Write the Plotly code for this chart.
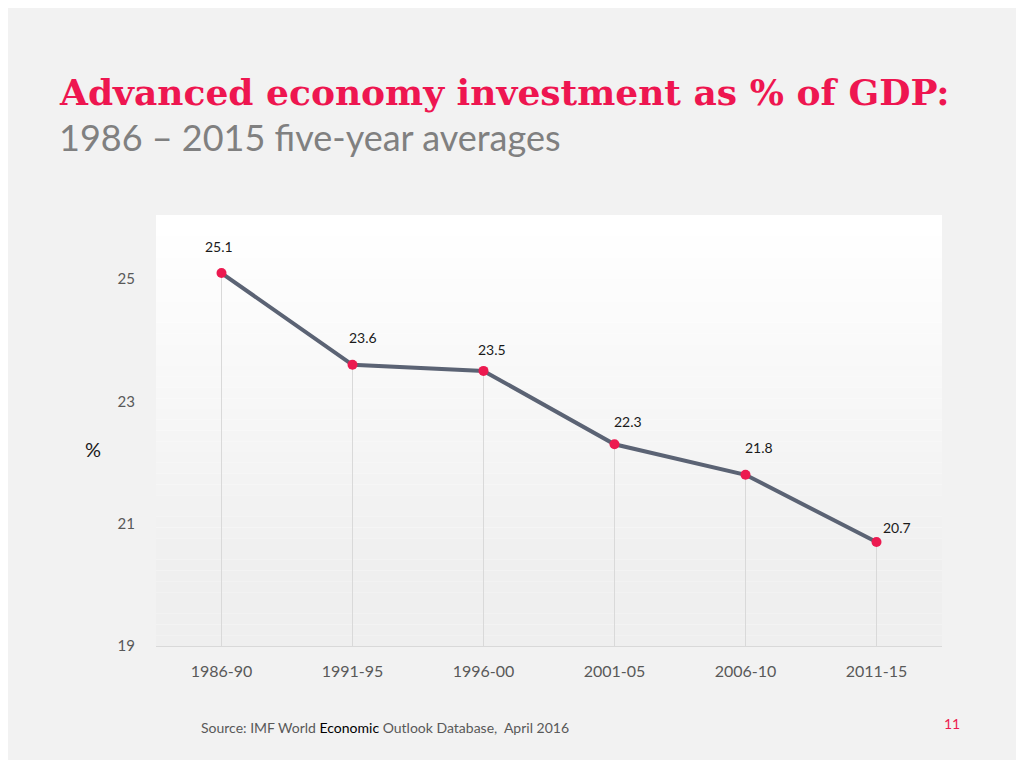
import plotly.graph_objects as go

periods = ['1986-90', '1991-95', '1996-00', '2001-05', '2006-10', '2011-15']
investment = [25.1, 23.6, 23.5, 22.3, 21.8, 20.7]
y_ticks = [19, 21, 23, 25]

y_floor = 19
y_top = 26.05

# label offsets (px) for the data labels, like the original slide
label_shift = [(-3, 27), (10, 27), (8, 21), (13, 23), (13, 27), (20, 15)]

fig = go.Figure()

fig.add_trace(go.Scatter(
    x=periods, y=investment,
    mode='lines+markers',
    line=dict(color='#5b6374', width=4),
    marker=dict(color='#ec1a50', size=10),
    error_y=dict(type='data', symmetric=False, array=[0] * len(investment),
                 arrayminus=[v - y_floor for v in investment],
                 color='#d9d9d9', thickness=1, width=0),
    showlegend=False,
    hoverinfo='x+y',
))

# gradient background of the plot area (white at top -> light grey at bottom)
n_bands = 40
for i in range(n_bands):
    t = i / (n_bands - 1)
    g = int(round(255 - 16 * min(1, t * 1.2)))
    fig.add_shape(type='rect', xref='paper', yref='paper', layer='below',
                  x0=0, x1=1, y0=1 - (i + 1) / n_bands, y1=1 - i / n_bands,
                  fillcolor=f'rgb({g},{g},{g})', line=dict(width=0))

for p, v, (dx, dy) in zip(periods, investment, label_shift):
    fig.add_annotation(x=p, y=v, text=f'{v:.1f}', showarrow=False,
                       xshift=dx, yshift=dy,
                       font=dict(family='Lato, Open Sans, sans-serif', size=14, color='#1a1a1a'))

fig.add_annotation(xref='paper', yref='paper', x=-0.093, y=0.457, text='%',
                   showarrow=False, font=dict(family='Lato, sans-serif', size=20, color='#1a1a1a'))

fig.add_annotation(xref='paper', yref='paper', x=-0.126, y=1.285, xanchor='left', yanchor='middle',
                   text='<b>Advanced economy investment as % of GDP:</b>', showarrow=False,
                   font=dict(family='DejaVu Serif, serif', size=36, color='#ee1650'))
fig.add_annotation(xref='paper', yref='paper', x=-0.126, y=1.181, xanchor='left', yanchor='middle',
                   text='1986 \u2013 2015 five-year averages', showarrow=False,
                   font=dict(family='Lato, sans-serif', size=36, color='#808080'))

fig.add_annotation(xref='paper', yref='paper', x=0.0547, y=-0.19, xanchor='left', yanchor='middle',
                   text='Source: IMF World <span style="color:#000000">Economic</span> Outlook Database,  April 2016',
                   showarrow=False, font=dict(family='Lato, sans-serif', size=14, color='#595959'))
fig.add_annotation(xref='paper', yref='paper', x=1.0127, y=-0.179, xanchor='center', yanchor='middle',
                   text='11', showarrow=False, font=dict(family='Lato, sans-serif', size=14, color='#ec1a50'))

# the page is shown with an 8px body margin, so the figure is a bit smaller
fig.update_layout(
    width=1008, height=752,
    margin=dict(l=148, r=74, t=207, b=114),
    paper_bgcolor='#f2f2f2',
    plot_bgcolor='#ffffff',
    xaxis=dict(type='category', range=[-0.5, len(periods) - 0.5], showgrid=False,
               showline=True, linecolor='#d9d9d9', linewidth=1, zeroline=False,
               tickfont=dict(family='Lato, sans-serif', size=16, color='#595959'),
               ticklabelstandoff=11, fixedrange=True),
    yaxis=dict(range=[y_floor, y_top], tickvals=y_ticks, showgrid=False, zeroline=False,
               showline=False, tickfont=dict(family='Lato, sans-serif', size=15, color='#595959'),
               ticklabelstandoff=20, fixedrange=True),
)

fig.write_html('out.html')
